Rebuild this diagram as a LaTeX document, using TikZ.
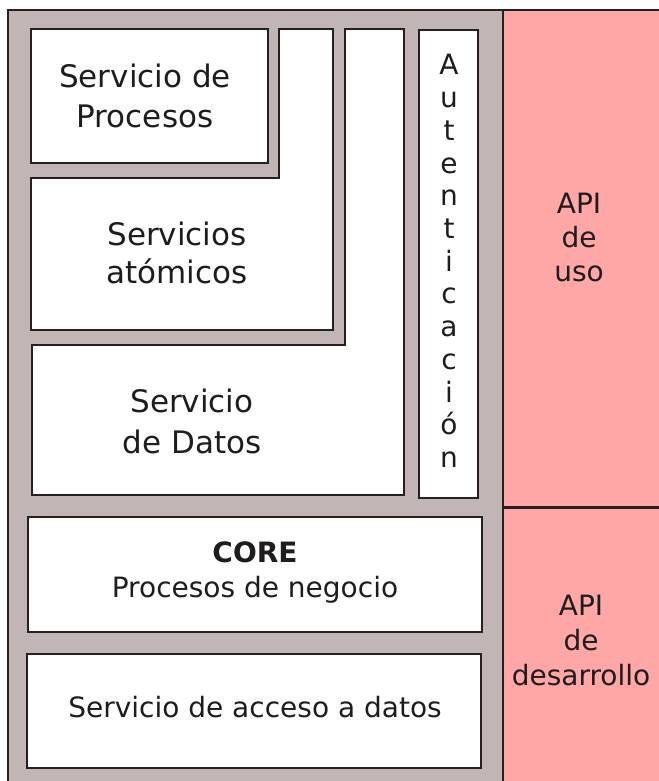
\documentclass[tikz,border=0pt]{standalone}
\usepackage{fontspec}
\setmainfont{DejaVu Sans}
\usetikzlibrary{fit}
\definecolor{framegray}{RGB}{193,181,181}
\definecolor{apipink}{RGB}{255,166,166}
\definecolor{edgec}{RGB}{38,32,32}
\definecolor{txt}{RGB}{30,28,28}
\begin{document}
\begin{tikzpicture}[x=1pt,y=-1pt,
  box/.style={draw=edgec, line width=2pt, fill=white, inner sep=0pt},
  bigtxt/.style={font=\fontsize{31}{37}\selectfont, inner sep=0pt, anchor=base, text=txt},
  smalltxt/.style={font=\fontsize{28}{34}\selectfont, inner sep=0pt, anchor=base, text=txt},
  region/.style={draw=edgec, line width=2.5pt}]
\useasboundingbox (0,0) rectangle (658,781);
% outer platform frame
\fill[framegray] (8,10) rectangle (503,795);
\draw[region] (8,795) -- (8,10) -- (503,10) -- (503,795);
% API column
\fill[apipink] (503,10) rectangle (670,795);
\draw[region] (503,10) -- (670,10);
\draw[region] (503,10) -- (503,795);
\coordinate (divl) at (503,507);
\coordinate (divr) at (670,507);
\draw[edgec, line width=3pt] (divl) -- (divr);

% Servicio de Procesos
\node[box, fit={(31,29) (268,163)}] (proc) {};
\node[bigtxt] (proc1) at (145,88) {Servicio de};
\node[bigtxt] (proc2) at (145,128) {Procesos};

% Servicios atomicos (L shape)
\draw[box] (31,178) -- (279,178) -- (279,29) -- (333,29) -- (333,330) -- (31,330) -- cycle;
\node[bigtxt] (atom1) at (177,245) {Servicios};
\node[bigtxt] (atom2) at (177,283) {atómicos};

% Servicio de Datos (L shape)
\draw[box] (32,345) -- (345,345) -- (345,29) -- (404,29) -- (404,495) -- (32,495) -- cycle;
\node[bigtxt] (dat1) at (192,412) {Servicio};
\node[bigtxt] (dat2) at (192,453) {de Datos};

% Autenticacion
\node[box, fit={(419,30) (478,498)}] (auth) {};
\foreach \ch [count=\k from 0] in {A,u,t,e,n,t,i,c,a,c,i,ó,n}
  \node[smalltxt] (auth\k) at (449,{75+32.7*\k}) {\ch};

% CORE
\node[box, fit={(28,517) (482,632)}] (core) {};
\node[smalltxt, font=\fontsize{28}{34}\selectfont\bfseries] (core1) at (255,562) {CORE};
\node[smalltxt] (core2) at (255,597) {Procesos de negocio};

% Servicio de acceso a datos
\node[box, fit={(27,654) (481,768)}] (acc) {};
\node[smalltxt] (acc1) at (255,717) {Servicio de acceso a datos};

% API labels
\node[smalltxt] (uso1) at (579,213) {API};
\node[smalltxt] (uso2) at (579,247) {de};
\node[smalltxt] (uso3) at (579,281) {uso};
\node[smalltxt] (des1) at (581,615) {API};
\node[smalltxt] (des2) at (581,650) {de};
\node[smalltxt] (des3) at (581,685) {desarrollo};
\end{tikzpicture}
\end{document}
